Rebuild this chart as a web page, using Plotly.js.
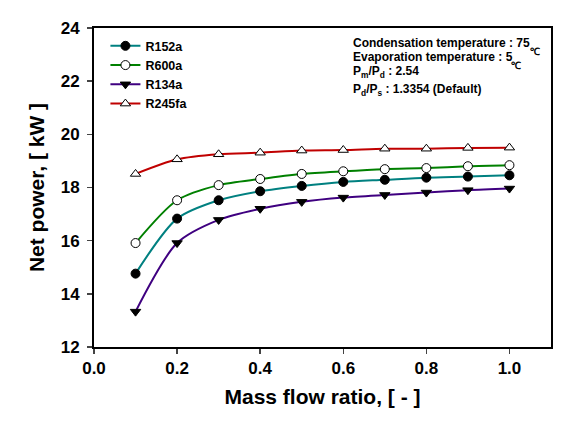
<!DOCTYPE html>
<html><head><meta charset="utf-8">
<script src="https://cdn.plot.ly/plotly-3.0.1.min.js"></script>
<style>body{margin:0;}#c{width:580px;height:425px;}</style>
</head><body><div id="c"></div>
<script>
const massFlowRatio = [0.1,0.2,0.3,0.4,0.5,0.6,0.7,0.8,0.9,1.0];
const r152a  = [14.76,16.83,17.52,17.86,18.06,18.21,18.29,18.37,18.41,18.46];
const r600a  = [15.91,17.52,18.09,18.32,18.51,18.61,18.69,18.73,18.80,18.84];
const r134a  = [13.33,15.91,16.78,17.20,17.46,17.62,17.72,17.81,17.90,17.96];
const r245fa = [18.51,19.06,19.25,19.31,19.39,19.41,19.46,19.46,19.49,19.50];
const seriesNames = ["R152a","R600a","R134a","R245fa"];
const xTicks = [0.0,0.2,0.4,0.6,0.8,1.0];
const yTicks = [12,14,16,18,20,22,24];
const infoLines = [
  "Condensation temperature : 75",
  "Evaporation temperature : 5",
  "P<sub>m</sub>/P<sub>d</sub> : 2.54",
  "P<sub>d</sub>/P<sub>s</sub> : 1.3354 (Default)"
];

const styles = [
  {color:"#008080", symbol:"circle", fill:"#000000"},
  {color:"#008000", symbol:"circle", fill:"#ffffff"},
  {color:"#3f0080", symbol:"triangle-down", fill:"#000000"},
  {color:"#c00000", symbol:"triangle-up", fill:"#ffffff"}
];
const data = [r152a, r600a, r134a, r245fa].map((ys,i)=>({
  x: massFlowRatio, y: ys, name: seriesNames[i], type:"scatter", mode:"lines+markers",
  line:{color:styles[i].color, width:2, shape:"spline", smoothing:0.8},
  marker:{symbol: styles[i].symbol, size:9, color: styles[i].fill,
    line:{color:"#000000", width:1}}
}));

const font = "Arial, 'Liberation Sans', sans-serif";
const infoY = [0.953, 0.909, 0.862, 0.806];
const annotations = infoLines.map((t,i)=>({
  xref:"paper", yref:"paper", x:0.562, y:infoY[i], xanchor:"left", yanchor:"middle", align:"left",
  showarrow:false, font:{family:font, size:12, weight:"bold"}, text:t
}));
annotations.push(
  {xref:"paper", yref:"paper", x:0.965, y:0.925, xanchor:"center", yanchor:"middle", showarrow:false, font:{family:font, size:10, weight:"bold"}, text:"℃"},
  {xref:"paper", yref:"paper", x:0.923, y:0.884, xanchor:"center", yanchor:"middle", showarrow:false, font:{family:font, size:10, weight:"bold"}, text:"℃"}
);

const layout = {
  width:580, height:425,
  margin:{l:94, r:29, t:28, b:78},
  paper_bgcolor:"#ffffff", plot_bgcolor:"#ffffff",
  font:{family:font, color:"#000000"},
  showlegend:true,
  legend:{x:0.025, y:0.99, xanchor:"left", yanchor:"top", bgcolor:"rgba(0,0,0,0)",
    font:{family:font, size:12.5, weight:"bold"}, tracegroupgap:0},
  xaxis:{range:[0,1.1], tickvals:xTicks, ticktext:xTicks.map(v=>v.toFixed(1)),
    ticks:"outside", ticklen:5, tickwidth:1.5, showgrid:false, zeroline:false,
    showline:true, linewidth:2, linecolor:"#000", mirror:true,
    tickfont:{family:font, size:17, weight:"bold"},
    title:{text:"Mass flow ratio, [ - ]", font:{family:font, size:21, weight:"bold"}, standoff:12}},
  yaxis:{range:[12,24], tickvals:yTicks,
    ticks:"outside", ticklen:5, tickwidth:1.5, showgrid:false, zeroline:false,
    showline:true, linewidth:2, linecolor:"#000", mirror:true, ticklabelstandoff:4,
    tickfont:{family:font, size:17, weight:"bold"},
    title:{text:"Net power, [ kW ]", font:{family:font, size:21, weight:"bold"}, standoff:10}},
  annotations: annotations
};
Plotly.newPlot("c", data, layout, {displayModeBar:false, staticPlot:true});
</script></body></html>
